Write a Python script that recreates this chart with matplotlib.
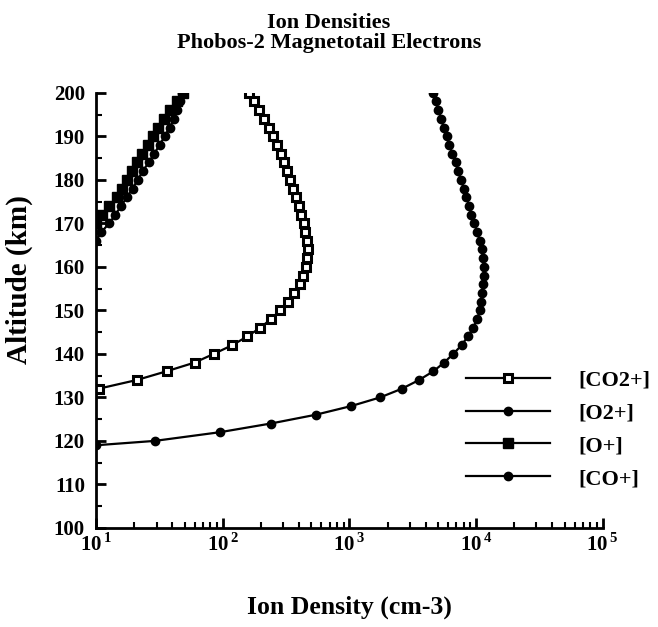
import numpy as np
import matplotlib
matplotlib.use('Agg')
import matplotlib.pyplot as plt
from matplotlib.ticker import LogLocator, MultipleLocator, FixedLocator

plt.rcParams['font.family'] = 'Liberation Serif'
plt.rcParams['font.weight'] = 'bold'
plt.rcParams['mathtext.fontset'] = 'custom'
plt.rcParams['mathtext.rm'] = 'Liberation Serif:bold'
plt.rcParams['mathtext.bf'] = 'Liberation Serif:bold'

# altitude grids (km) and densities (cm-3)
alt_co2p = [132, 134, 136, 138, 140, 142, 144, 146, 148, 150, 152, 154, 156, 158, 160, 162, 164,
            166, 168, 170, 172, 174, 176, 178, 180, 182, 184, 186, 188, 190, 192, 194, 196, 198, 200]
co2p = [10.5, 21, 36, 60, 85, 119, 156, 198, 240, 284, 328, 367, 405, 433, 455, 465, 468,
        462, 450, 437, 418, 398, 378, 360, 340, 324, 305, 288, 268, 250, 232, 212, 195, 178, 162]

alt_o2p = [119, 120, 122, 124, 126, 128, 130, 132, 134, 136, 138, 140, 142, 144, 146, 148, 150,
           152, 154, 156, 158, 160, 162, 164, 166, 168, 170, 172, 174, 176, 178, 180, 182, 184,
           186, 188, 190, 192, 194, 196, 198, 200]
o2p = [10, 29, 95, 240, 540, 1030, 1750, 2600, 3550, 4600, 5600, 6600, 7700, 8600, 9500, 10200,
       10700, 11000, 11200, 11400, 11500, 11500, 11400, 11100, 10700, 10200, 9700, 9200, 8800,
       8400, 8000, 7600, 7200, 6900, 6500, 6150, 5850, 5550, 5300, 5050, 4800, 4600]

alt_op = [170, 172, 174, 176, 178, 180, 182, 184, 186, 188, 190, 192, 194, 196, 198, 200]
op = [10, 11.2, 12.7, 14.5, 16, 17.5, 19.3, 21.2, 23.2, 25.5, 28, 31, 34.5, 38.5, 43.5, 49]

alt_cop = [166, 168, 170, 172, 174, 176, 178, 180, 182, 184, 186, 188, 190, 192, 194, 196, 198, 200]
cop = [10, 11, 12.7, 14.2, 15.8, 17.5, 19.4, 21.3, 23.4, 26, 28.8, 31.7, 34.8, 38, 41.2, 43.8, 46.2, 48]

fig = plt.figure(figsize=(6.58, 6.27), dpi=100)
ax = fig.add_axes([0.146, 0.158, 0.770, 0.694])

ax.plot(co2p, alt_co2p, color='black', lw=1.6, marker='s', ms=6, mfc='white', mec='black',
        mew=2.2, label='[CO2+]')
ax.plot(o2p, alt_o2p, color='black', lw=1.6, marker='o', ms=6, mfc='black', mec='black',
        label='[O2+]')
ax.plot(op, alt_op, color='black', lw=1.6, marker='s', ms=6.5, mfc='black', mec='black',
        label='[O+]')
ax.plot(cop, alt_cop, color='black', lw=1.6, marker='o', ms=6, mfc='black', mec='black',
        label='[CO+]')

ax.set_xscale('log')
ax.set_xlim(10, 1e5)
ax.set_ylim(100, 200)

ax.xaxis.set_major_locator(FixedLocator([10, 100, 1000, 1e4, 1e5]))
ax.xaxis.set_minor_locator(LogLocator(base=10, subs=np.arange(2, 10)))
ax.set_xticklabels([r'$10^{\,1}$', r'$10^{\,2}$', r'$10^{\,3}$', r'$10^{\,4}$', r'$10^{\,5}$'])
ax.yaxis.set_major_locator(MultipleLocator(10))
ax.yaxis.set_minor_locator(MultipleLocator(5))

ax.tick_params(axis='both', which='major', direction='in', length=7, width=2, labelsize=15)
ax.tick_params(axis='both', which='minor', direction='in', length=4, width=1.5)
ax.tick_params(axis='y', which='major', pad=8)
ax.tick_params(axis='x', which='major', pad=4)

for s in ['top', 'right']:
    ax.spines[s].set_visible(False)
for s in ['left', 'bottom']:
    ax.spines[s].set_linewidth(2)

ax.set_ylabel('Altitude (km)', fontsize=21, fontweight='bold')
ax.yaxis.set_label_coords(-0.124, 0.57)
ax.set_xlabel('Ion Density (cm-3)', fontsize=18.5, fontweight='bold')
ax.xaxis.set_label_coords(0.5, -0.155)
fig.suptitle('Ion Densities\nPhobos-2 Magnetotail Electrons', fontsize=16, fontweight='bold',
             y=0.98, linespacing=1.0)

ax.legend(loc='upper left', bbox_to_anchor=(0.712, 0.383), frameon=False, fontsize=16,
          handlelength=3.8, handletextpad=1.25, labelspacing=0.55, borderaxespad=0)

fig.savefig('out.png', dpi=100)
